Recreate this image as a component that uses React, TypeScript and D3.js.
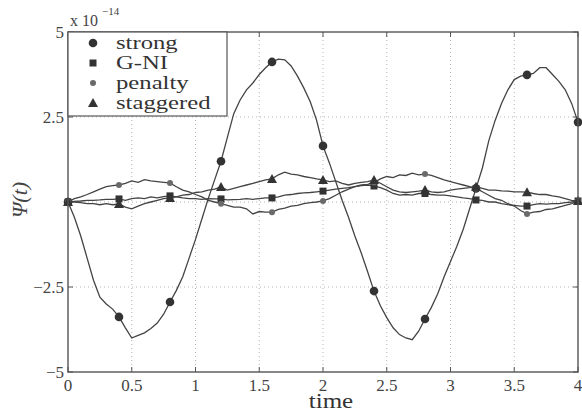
import React from 'react';
import { scaleLinear, line } from 'd3';

const width = 582;
const height = 412;
const plot = { left: 68, right: 578, top: 32, bottom: 372 };

// samples every 0.05 time units, values in units of 1e-14
const timeStep = 0.05;
const markerEvery = 8;

const strong = [
    0, -0.45, -1.0, -1.65, -2.3, -2.8, -3.0, -3.15, -3.38, -3.7,
    -4.0, -3.92, -3.85, -3.72, -3.56, -3.3, -2.94, -2.6, -2.2, -1.65,
    -1.1, -0.5, 0.1, 0.65, 1.2, 1.9, 2.6, 3.0, 3.3, 3.5,
    3.75, 3.95, 4.12, 4.2, 4.18, 4.0, 3.7, 3.35, 2.95, 2.4,
    1.65, 1.15, 0.6, 0.05, -0.45, -1.0, -1.5, -2.05, -2.62, -3.05,
    -3.4, -3.7, -3.9, -4.0, -4.05, -3.8, -3.44, -3.1, -2.7, -2.2,
    -1.75, -1.3, -0.8, -0.2, 0.4, 1.0, 1.8, 2.4, 2.9, 3.3,
    3.6, 3.7, 3.74, 3.78, 3.95, 3.95, 3.75, 3.55, 3.3, 2.9,
    2.35
];

const gni = [
    0, 0.02, 0.03, 0.05, 0.05, 0.06, 0.08, 0.08, 0.09, 0.05,
    0.1, 0.12, 0.1, 0.15, 0.12, 0.16, 0.18, 0.15, 0.12, 0.1,
    0.1, 0.08, 0.1, 0.09, 0.09, 0.06, 0.07, 0.08, 0.1, 0.08,
    0.1, 0.12, 0.12, 0.15, 0.2, 0.22, 0.25, 0.27, 0.28, 0.3,
    0.32, 0.35, 0.38, 0.4, 0.42, 0.45, 0.48, 0.5, 0.47, 0.42,
    0.35, 0.25, 0.2, 0.22, 0.2, 0.25, 0.25, 0.22, 0.2, 0.2,
    0.18, 0.15, 0.12, 0.1, 0.06, 0.05, 0.0, 0.0, -0.05, -0.08,
    -0.1, -0.12, -0.12, -0.08, -0.05, -0.06, -0.05, -0.05, -0.02, 0.0,
    0.03
];

const penalty = [
    0, 0.1, 0.15, 0.22, 0.3, 0.38, 0.45, 0.48, 0.5, 0.55,
    0.62, 0.58, 0.66, 0.62, 0.6, 0.58, 0.56, 0.45, 0.35, 0.3,
    0.22, 0.15, 0.05, 0.0, -0.05, -0.1, -0.15, -0.15, -0.2, -0.35,
    -0.28, -0.3, -0.3, -0.22, -0.18, -0.12, -0.1, -0.05, -0.02, 0.0,
    0.03, 0.1, 0.2, 0.3, 0.38, 0.45, 0.5, 0.52, 0.57, 0.68,
    0.75, 0.72, 0.8, 0.78, 0.85, 0.8, 0.82, 0.78, 0.72, 0.65,
    0.6, 0.55, 0.5, 0.45, 0.4, 0.3, 0.2, 0.1, 0.05, -0.05,
    -0.12, -0.25, -0.35, -0.3, -0.28, -0.22, -0.2, -0.15, -0.1, -0.05,
    0.03
];

const staggered = [
    0, 0.0, -0.02, -0.05, -0.05, -0.08, -0.05, -0.08, -0.06, -0.15,
    -0.2, -0.12, -0.05, 0.0, 0.05, 0.1, 0.12, 0.15, 0.2, 0.22,
    0.28, 0.3, 0.35, 0.38, 0.44, 0.35, 0.4, 0.45, 0.5, 0.55,
    0.6, 0.65, 0.68, 0.8, 0.88, 0.82, 0.8, 0.75, 0.72, 0.68,
    0.65, 0.6, 0.62, 0.55, 0.5, 0.55, 0.58, 0.6, 0.65, 0.55,
    0.45, 0.35, 0.3, 0.28, 0.3, 0.32, 0.35, 0.3, 0.28, 0.3,
    0.35, 0.38, 0.4, 0.42, 0.45, 0.4, 0.35, 0.35, 0.33, 0.32,
    0.3, 0.3, 0.29, 0.25, 0.22, 0.22, 0.18, 0.15, 0.1, 0.05,
    0.03
];

const seriesNames = ['strong', 'G-NI', 'penalty', 'staggered'];
const xTicks = [0, 0.5, 1, 1.5, 2, 2.5, 3, 3.5, 4];
const xTickLabels = ['0', '0.5', '1', '1.5', '2', '2.5', '3', '3.5', '4'];
const yTicks = [-5, -2.5, 0, 2.5, 5];
const yTickLabels = ['\u22125', '\u22122.5', '', '2.5', '5'];

const x = scaleLinear().domain([0, 4]).range([plot.left, plot.right]);
const y = scaleLinear().domain([-5, 5]).range([plot.bottom, plot.top]);

const lineColor = '#444';
const markColor = '#333';
const serif = { fontFamily: "'Times New Roman', Times, 'Liberation Serif', Tinos, 'DejaVu Serif', 'Noto Serif', serif" };

const path = line<number>()
    .x((_, i) => x(i * timeStep))
    .y(d => y(d));

function Marker({ kind, cx, cy }: { kind: string; cx: number; cy: number }) {
    if (kind === 'strong') return <circle cx={cx} cy={cy} r={4.3} fill={markColor} />;
    if (kind === 'G-NI') return <rect x={cx - 3.5} y={cy - 3.5} width={7} height={7} fill={markColor} />;
    if (kind === 'penalty') return <circle cx={cx} cy={cy} r={3} fill="#6a6a6a" />;
    return <path d={`M${cx},${cy - 5} L${cx + 5},${cy + 4} L${cx - 5},${cy + 4} Z`} fill={markColor} />;
}

export default function App() {
    const all = [
        { name: 'strong', data: strong },
        { name: 'G-NI', data: gni },
        { name: 'penalty', data: penalty },
        { name: 'staggered', data: staggered },
    ];

    return (
        <svg width={width} height={height} style={{ position: 'absolute', left: 0, top: 0, background: '#fff' }}>
            {/* grid */}
            <g stroke="#b5b5b5" strokeWidth={1} strokeDasharray="1,3">
                {xTicks.slice(1, -1).map(t => (
                    <line key={'gx' + t} x1={x(t)} x2={x(t)} y1={plot.top} y2={plot.bottom} />
                ))}
                {yTicks.slice(1, -1).map(t => (
                    <line key={'gy' + t} x1={plot.left} x2={plot.right} y1={y(t)} y2={y(t)} />
                ))}
            </g>

            {/* ticks */}
            <g stroke="#555" strokeWidth={1}>
                {xTicks.map(t => (
                    <g key={'tx' + t}>
                        <line x1={x(t)} x2={x(t)} y1={plot.bottom} y2={plot.bottom - 5} />
                        <line x1={x(t)} x2={x(t)} y1={plot.top} y2={plot.top + 5} />
                    </g>
                ))}
                {yTicks.map(t => (
                    <g key={'ty' + t}>
                        <line x1={plot.left} x2={plot.left + 5} y1={y(t)} y2={y(t)} />
                        <line x1={plot.right} x2={plot.right - 5} y1={y(t)} y2={y(t)} />
                    </g>
                ))}
            </g>

            {/* series */}
            {all.map(s => (
                <g key={s.name}>
                    <path d={path(s.data) || ''} fill="none" stroke={lineColor} strokeWidth={1.3} />
                    {s.data.map((v, i) => i % markerEvery === 0 ? (
                        <Marker key={i} kind={s.name} cx={x(i * timeStep)} cy={y(v)} />
                    ) : null)}
                </g>
            ))}

            {/* frame */}
            <rect x={plot.left} y={plot.top} width={plot.right - plot.left} height={plot.bottom - plot.top}
                fill="none" stroke="#555" strokeWidth={1.4} />

            {/* legend */}
            <g>
                <rect x={plot.left} y={plot.top} width={159} height={84} fill="#fff" stroke="#555" strokeWidth={1.2} />
                {seriesNames.map((n, i) => (
                    <g key={n}>
                        <Marker kind={n} cx={93} cy={43 + i * 20} />
                        <text transform={`translate(116,${43 + i * 20 + 6}) scale(1.3,1)`} style={serif}
                            fontSize={19} fill="#333">{n}</text>
                    </g>
                ))}
            </g>

            {/* tick labels */}
            <g style={serif} fontSize={17} fill="#444">
                {xTicks.map((t, i) => (
                    <text key={'lx' + t} x={x(t)} y={391} textAnchor="middle">{xTickLabels[i]}</text>
                ))}
                {yTicks.map((t, i) => (
                    <text key={'ly' + t} x={64} y={y(t) + 6} textAnchor="end">{yTickLabels[i]}</text>
                ))}
            </g>

            {/* exponent */}
            <text x={70} y={26} style={serif} fontSize={16} fill="#444">x 10</text>
            <text x={102} y={15} style={serif} fontSize={11} fill="#444">{'\u221214'}</text>

            {/* axis labels */}
            <text transform="translate(331,408) scale(1.25,1)" textAnchor="middle" style={serif} fontSize={20}
                fill="#333">time</text>
            <text transform="translate(27,200) rotate(-90)" textAnchor="middle" style={serif} fontSize={22}
                fontStyle="italic" fill="#444">{'\u03A8(t)'}</text>
        </svg>
    );
}
